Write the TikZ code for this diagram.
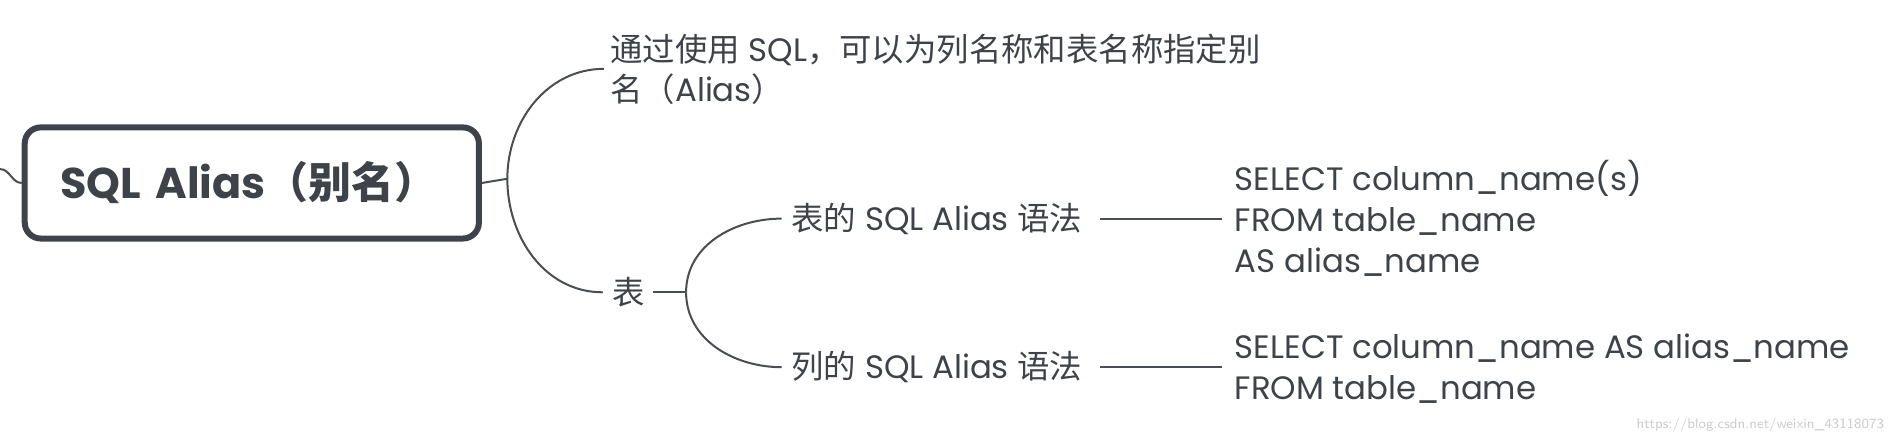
\documentclass[tikz,border=0pt]{standalone}
\usepackage{fontspec}
\setmainfont{Poppins}
\newfontfamily\cjk{Noto Sans CJK SC}
\usetikzlibrary{positioning}
\definecolor{ink}{HTML}{3E434A}
\definecolor{wire}{HTML}{4A4D52}
\tikzset{
  leaf/.style={anchor=west, inner sep=0pt, text=ink, font=\fontsize{16.2}{20}\selectfont, align=left},
  branch/.style={draw=wire, line width=1pt},
}
\begin{document}
\begin{tikzpicture}[x=0.604pt, y=-0.604pt]
      \useasboundingbox (0,0) rectangle (1568,369);

      \node [draw=ink, line width=3pt, rounded corners=8pt, minimum width=376*0.604pt,
        minimum height=92*0.604pt, text=ink, font=\fontsize{21.5}{24}\selectfont\bfseries,
        anchor=north west, align=left, text width=350*0.604pt]
        (root) at (18,103) {\hspace*{10pt}SQL Alias{\cjk（别名）}};

      \node [leaf] (intro) at (505,57) {{\cjk 通过使用} SQL{\cjk ，可以为列名称和表名称指定别}\\{\cjk 名（}Alias{\cjk ）}};
      \node [leaf] (tbl) at (507,242) {\cjk 表};
      \node [leaf] (tsyn) at (655,181) {{\cjk 表的} SQL Alias {\cjk 语法}};
      \node [leaf] (csyn) at (655,304) {{\cjk 列的} SQL Alias {\cjk 语法}};
      \node [leaf, font=\fontsize{16.2}{20.6}\selectfont] (tcode) at (1022,181)
        {SELECT column\_name(s)\\FROM table\_name\\AS alias\_name};
      \node [leaf, font=\fontsize{16.2}{20.6}\selectfont] (ccode) at (1022,305)
        {SELECT column\_name AS alias\_name\\FROM table\_name};
      \node [anchor=east, inner sep=0pt, text=black!20, font=\fontsize{7}{8}\selectfont\sffamily]
        (mark) at (1560,352) {https://blog.csdn.net/weixin\_43118073};

      \coordinate (stub) at (0,140);
      \coordinate (hubA) at (420,148);
      \coordinate (hubB) at (568,242);

      % connectors
      \draw [branch] (stub) to[out=0,in=180] (root.west);
      \draw [branch] (root.east) -- (hubA);
      \draw [branch] (hubA) to[out=90,in=180] ([xshift=-5*0.604pt]intro.west);
      \draw [branch] (hubA) to[out=-90,in=180] ([xshift=-8*0.604pt]tbl.west);
      \draw [branch] ([xshift=6*0.604pt]tbl.east) -- (hubB);
      \draw [branch] (hubB) to[out=90,in=180] ([xshift=-8*0.604pt]tsyn.west);
      \draw [branch] (hubB) to[out=-90,in=180] ([xshift=-8*0.604pt]csyn.west);
      \draw [branch] ([xshift=14*0.604pt]tsyn.east) -- ([xshift=-10*0.604pt]tcode.west);
      \draw [branch] ([xshift=14*0.604pt]csyn.east) -- ([xshift=-10*0.604pt]csyn.east -| tcode.west);
    \end{tikzpicture}
\end{document}
